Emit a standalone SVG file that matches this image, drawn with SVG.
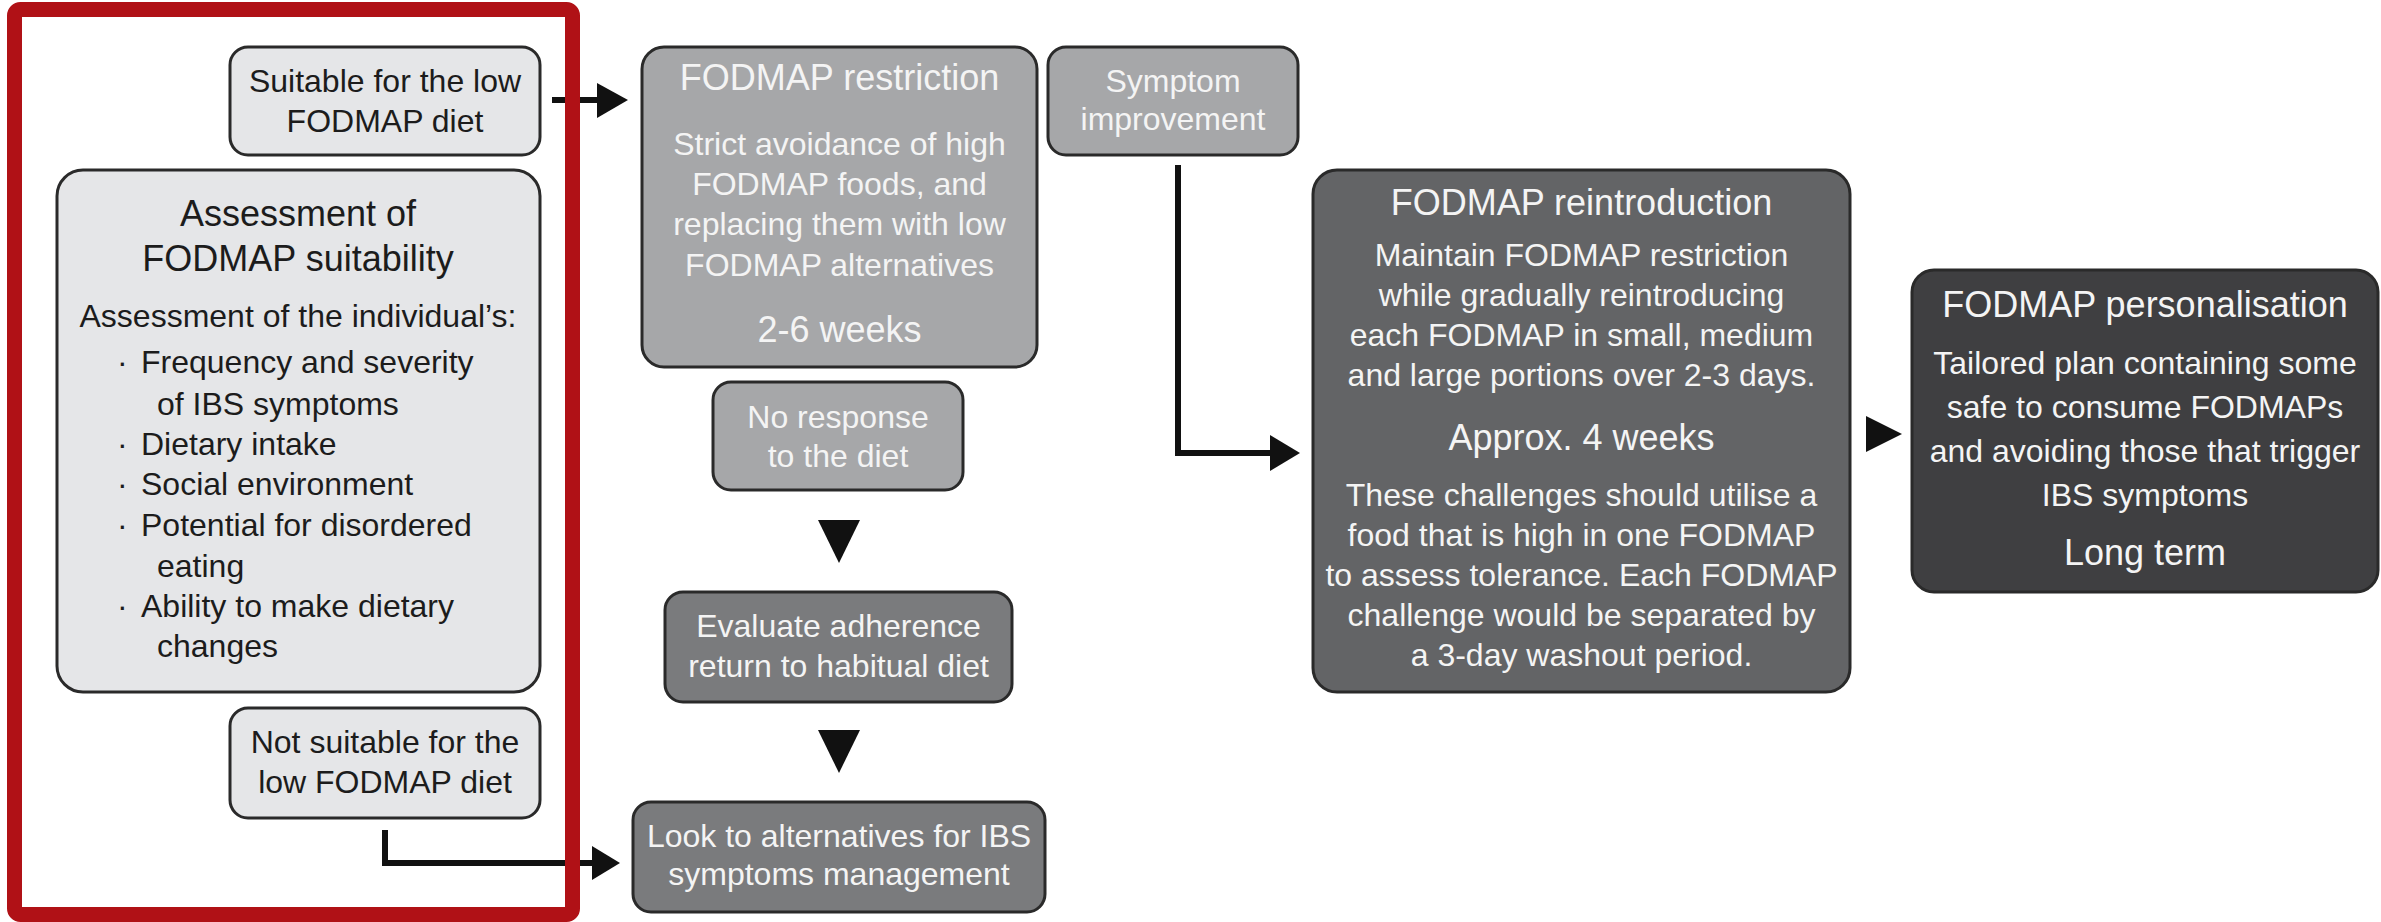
<svg xmlns="http://www.w3.org/2000/svg" width="2381" height="922" viewBox="0 0 2381 922">
<style>
  text { font-family: "Liberation Sans", Arial, sans-serif; text-anchor: middle; }
  .box { stroke: #2a2a2a; stroke-width: 3; }
  .light { fill: #E5E6E8; }
  .mid { fill: #A6A7A9; }
  .dark1 { fill: #7A7B7D; }
  .dark2 { fill: #636466; }
  .dark3 { fill: #3F3F41; }
  .tdark { fill: #1c1c1c; }
  .tlight { fill: #F4F4F4; }
  .b { font-size: 32px; }
  .t { font-size: 36px; }
  .left { text-anchor: start; }
  .line { fill: none; stroke: #111; stroke-width: 6; }
  .head { fill: #111; }
</style>

<g id="connectors">
  <line class="line" x1="552" y1="100" x2="600" y2="100"/>
  <polygon class="head" points="597,83 628,100 597,118"/>
  <path class="line" d="M1178,165 V453 H1273"/>
  <polygon class="head" points="1270,435 1300,453 1270,471"/>
  <path class="line" d="M385,830 V863 H595"/>
  <polygon class="head" points="592,846 620,863 592,880"/>
  <polygon class="head" points="818,520 860,520 839,563"/>
  <polygon class="head" points="818,730 860,730 839,773"/>
  <polygon class="head" points="1866,416 1902,434 1866,452"/>
</g>

<g id="suitable">
  <rect class="box light" x="230" y="47" width="310" height="108" rx="18"/>
  <text class="b tdark" x="385" y="92">Suitable for the low</text>
  <text class="b tdark" x="385" y="132">FODMAP diet</text>
</g>

<g id="assessment">
  <rect class="box light" x="57" y="170" width="483" height="522" rx="26"/>
  <text class="t tdark" x="298" y="226">Assessment of</text>
  <text class="t tdark" x="298" y="271">FODMAP suitability</text>
  <text class="b tdark" x="298" y="327">Assessment of the individual’s:</text>
  <text class="b tdark left"><tspan x="117" y="373">·</tspan><tspan x="141" y="373">Frequency and severity</tspan></text>
  <text class="b tdark left" x="157" y="415">of IBS symptoms</text>
  <text class="b tdark left"><tspan x="117" y="455">·</tspan><tspan x="141" y="455">Dietary intake</tspan></text>
  <text class="b tdark left"><tspan x="117" y="495">·</tspan><tspan x="141" y="495">Social environment</tspan></text>
  <text class="b tdark left"><tspan x="117" y="536">·</tspan><tspan x="141" y="536">Potential for disordered</tspan></text>
  <text class="b tdark left" x="157" y="577">eating</text>
  <text class="b tdark left"><tspan x="117" y="617">·</tspan><tspan x="141" y="617">Ability to make dietary</tspan></text>
  <text class="b tdark left" x="157" y="657">changes</text>
</g>

<g id="not-suitable">
  <rect class="box light" x="230" y="708" width="310" height="110" rx="18"/>
  <text class="b tdark" x="385" y="753">Not suitable for the</text>
  <text class="b tdark" x="385" y="793">low FODMAP diet</text>
</g>

<g id="restriction">
  <rect class="box mid" x="642" y="47" width="395" height="320" rx="22"/>
  <text class="t tlight" x="839.5" y="90">FODMAP restriction</text>
  <text class="b tlight" x="839.5" y="155">Strict avoidance of high</text>
  <text class="b tlight" x="839.5" y="195">FODMAP foods, and</text>
  <text class="b tlight" x="839.5" y="235">replacing them with low</text>
  <text class="b tlight" x="839.5" y="276">FODMAP alternatives</text>
  <text class="t tlight" x="839.5" y="342">2-6 weeks</text>
</g>

<g id="symptom">
  <rect class="box mid" x="1048" y="47" width="250" height="108" rx="18"/>
  <text class="b tlight" x="1173" y="92">Symptom</text>
  <text class="b tlight" x="1173" y="130">improvement</text>
</g>

<g id="no-response">
  <rect class="box mid" x="713" y="382" width="250" height="108" rx="18"/>
  <text class="b tlight" x="838" y="428">No response</text>
  <text class="b tlight" x="838" y="467">to the diet</text>
</g>

<g id="evaluate">
  <rect class="box dark1" x="665" y="592" width="347" height="110" rx="18"/>
  <text class="b tlight" x="838.5" y="637">Evaluate adherence</text>
  <text class="b tlight" x="838.5" y="677">return to habitual diet</text>
</g>

<g id="alternatives">
  <rect class="box dark1" x="633" y="802" width="412" height="110" rx="18"/>
  <text class="b tlight" x="839" y="847">Look to alternatives for IBS</text>
  <text class="b tlight" x="839" y="885">symptoms management</text>
</g>

<g id="reintroduction">
  <rect class="box dark2" x="1313" y="170" width="537" height="522" rx="24"/>
  <text class="t tlight" x="1581.5" y="215">FODMAP reintroduction</text>
  <text class="b tlight" x="1581.5" y="266">Maintain FODMAP restriction</text>
  <text class="b tlight" x="1581.5" y="306">while gradually reintroducing</text>
  <text class="b tlight" x="1581.5" y="346">each FODMAP in small, medium</text>
  <text class="b tlight" x="1581.5" y="386">and large portions over 2-3 days.</text>
  <text class="t tlight" x="1581.5" y="450">Approx. 4 weeks</text>
  <text class="b tlight" x="1581.5" y="506">These challenges should utilise a</text>
  <text class="b tlight" x="1581.5" y="546">food that is high in one FODMAP</text>
  <text class="b tlight" x="1581.5" y="586">to assess tolerance. Each FODMAP</text>
  <text class="b tlight" x="1581.5" y="626">challenge would be separated by</text>
  <text class="b tlight" x="1581.5" y="666">a 3-day washout period.</text>
</g>

<g id="personalisation">
  <rect class="box dark3" x="1912" y="270" width="466" height="322" rx="22"/>
  <text class="t tlight" x="2145" y="317">FODMAP personalisation</text>
  <text class="b tlight" x="2145" y="374">Tailored plan containing some</text>
  <text class="b tlight" x="2145" y="418">safe to consume FODMAPs</text>
  <text class="b tlight" x="2145" y="462">and avoiding those that trigger</text>
  <text class="b tlight" x="2145" y="506">IBS symptoms</text>
  <text class="t tlight" x="2145" y="565">Long term</text>
</g>

<g id="highlight-frame">
  <rect x="14.5" y="9.5" width="558" height="905" rx="6" fill="none" stroke="#B01116" stroke-width="15"/>
</g>
</svg>
